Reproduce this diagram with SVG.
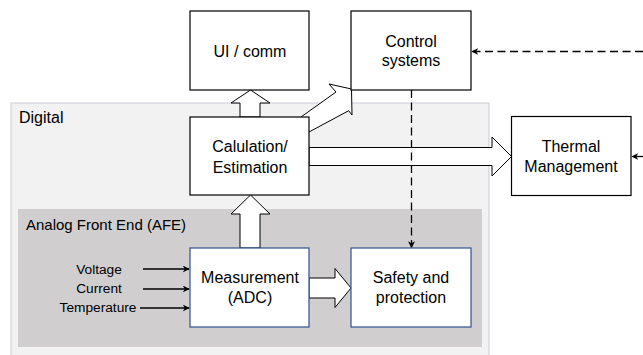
<svg xmlns="http://www.w3.org/2000/svg" width="643" height="355" viewBox="0 0 643 355">
<defs>
<marker id="ah" viewBox="0 0 10 10" refX="9" refY="5" markerWidth="7" markerHeight="7" markerUnits="userSpaceOnUse" orient="auto">
<path d="M0,0 L10,5 L0,10 L3,5 Z" fill="#000"/>
</marker>
</defs>
<style>
text{font-family:"Liberation Sans",Arial,sans-serif;fill:#000}
.lbl{font-size:16px;text-anchor:middle}
.sm{font-size:13.7px;text-anchor:middle}
.box{fill:#fff;stroke:#000;stroke-width:1.2}
.bbox{fill:#fff;stroke:#2f528f;stroke-width:1.2}
.blk{fill:#fff;stroke:#000;stroke-width:1;stroke-linejoin:miter}
.dash{fill:none;stroke:#000;stroke-width:1.3;stroke-dasharray:8,4.5}
.thin{fill:none;stroke:#000;stroke-width:1.3}
</style>
<rect width="643" height="355" fill="#fff"/>
<g id="digital">
<rect x="11" y="103" width="478" height="253" fill="#f2f2f2" stroke="#c9cdd9" stroke-width="1"/>
<text x="19" y="123" style="font-size:16px">Digital</text>
</g>
<g id="afe">
<rect x="18" y="209" width="464" height="138" fill="#d0cece"/>
<text x="26" y="230" style="font-size:15px">Analog Front End (AFE)</text>
</g>
<g id="connectors">
<polygon class="blk" points="240,117 240,103 231,103 250.5,90 270,103 260,103 260,117"/>
<polygon class="blk" points="240,248 240,214 231,214 250.5,195 270,214 260,214 260,248"/>
<polygon class="blk" points="309,147.5 492,147.5 492,137 511.5,156.5 492,176 492,165.5 309,165.5"/>
<polygon class="blk" points="309,278 335,278 335,268.5 351,288 335,307.5 335,298 309,298"/>
<polygon class="blk" points="301,117 336,92 329,84 351.5,89 352,115 348.7,110.7 309,132"/>
<line class="dash" x1="643" y1="51.5" x2="472" y2="51.5" marker-end="url(#ah)"/>
<line class="dash" x1="643" y1="156.5" x2="632" y2="156.5" marker-end="url(#ah)"/>
<line class="dash" x1="411.5" y1="90" x2="411.5" y2="247.5" marker-end="url(#ah)"/>
<line class="thin" x1="143" y1="269" x2="189" y2="269" marker-end="url(#ah)"/>
<line class="thin" x1="143" y1="289" x2="189" y2="289" marker-end="url(#ah)"/>
<line class="thin" x1="140" y1="308" x2="189" y2="308" marker-end="url(#ah)"/>
</g>
<g id="ui">
<rect class="box" x="190" y="11" width="119" height="79"/>
<text class="lbl" x="250" y="57">UI / comm</text>
</g>
<g id="control">
<rect class="box" x="351" y="11" width="120" height="79"/>
<text class="lbl" x="411" y="47">Control</text>
<text class="lbl" x="411" y="66">systems</text>
</g>
<g id="calc">
<rect class="box" x="190" y="117" width="119" height="78"/>
<text class="lbl" x="250" y="152">Calulation/</text>
<text class="lbl" x="250" y="173">Estimation</text>
</g>
<g id="thermal">
<rect class="box" x="511.5" y="116.5" width="119.5" height="79"/>
<text class="lbl" x="571" y="152">Thermal</text>
<text class="lbl" x="571" y="172">Management</text>
</g>
<g id="measurement">
<rect class="bbox" x="190" y="248" width="119" height="79"/>
<text class="lbl" x="250" y="283">Measurement</text>
<text class="lbl" x="250" y="303">(ADC)</text>
</g>
<g id="safety">
<rect class="bbox" x="351" y="248" width="120" height="79"/>
<text class="lbl" x="411" y="283">Safety and</text>
<text class="lbl" x="411" y="303">protection</text>
</g>
<g id="inputs">
<text class="sm" x="99" y="274">Voltage</text>
<text class="sm" x="99" y="293">Current</text>
<text class="sm" x="98" y="312">Temperature</text>
</g>
</svg>
